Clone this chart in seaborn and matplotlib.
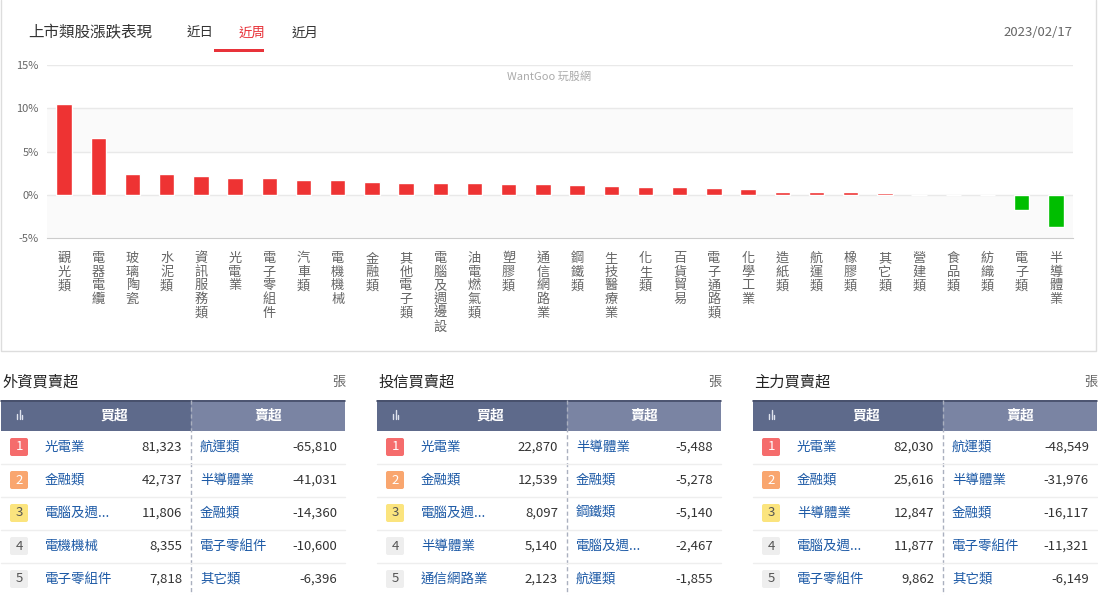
import numpy as np
import matplotlib
matplotlib.use("Agg")
import matplotlib.pyplot as plt
from matplotlib.patches import Rectangle, FancyBboxPatch
import seaborn as sns

# 類股週漲跌幅 (%)
categories = ["觀光類", "電器電纜", "玻璃陶瓷", "水泥類", "資訊服務類", "光電業", "電子零組件",
              "汽車類", "電機機械", "金融類", "其他電子類", "電腦及週邊設", "油電燃氣類", "塑膠類",
              "通信網路業", "鋼鐵類", "生技醫療業", "化生類", "百貨貿易", "電子通路類", "化學工業",
              "造紙類", "航運類", "橡膠類", "其它類", "營建類", "食品類", "紡織類", "電子類", "半導體業"]
changes = [10.5, 6.58, 2.42, 2.42, 2.19, 1.96, 1.96, 1.73, 1.73, 1.5, 1.38, 1.38, 1.38, 1.27,
           1.27, 1.15, 1.04, 0.92, 0.92, 0.81, 0.69, 0.35, 0.35, 0.35, 0.15, 0.0, 0.0, 0.0,
           -1.77, -3.73]

y_ticks = [-5, 0, 5, 10, 15]
tabs = ["近日", "近周", "近月"]

# 買賣超表
table_titles = ["外資買賣超", "投信買賣超", "主力買賣超"]
buy_names = [["光電業", "金融類", "電腦及週...", "電機機械", "電子零組件"],
             ["光電業", "金融類", "電腦及週...", "半導體業", "通信網路業"],
             ["光電業", "金融類", "半導體業", "電腦及週...", "電子零組件"]]
buy_values = [[81323, 42737, 11806, 8355, 7818],
              [22870, 12539, 8097, 5140, 2123],
              [82030, 25616, 12847, 11877, 9862]]
sell_names = [["航運類", "半導體業", "金融類", "電子零組件", "其它類"],
              ["半導體業", "金融類", "鋼鐵類", "電腦及週...", "航運類"],
              ["航運類", "半導體業", "金融類", "電子零組件", "其它類"]]
sell_values = [[-65810, -41031, -14360, -10600, -6396],
               [-5488, -5278, -5140, -2467, -1855],
               [-48549, -31976, -16117, -11321, -6149]]

sns.set_style("white")
plt.rcParams['font.family'] = ['Noto Sans CJK TC', 'DejaVu Sans']

W, H = 1098, 595
fig = plt.figure(figsize=(W / 100, H / 100), dpi=100)

# 背景層，用像素座標
bg = fig.add_axes([0, 0, 1, 1])
bg.set_xlim(0, W)
bg.set_ylim(H, 0)
bg.axis("off")

# 上方面板外框
bg.plot([1, 1, 1096, 1096], [0, 351, 351, 0], color="#dddddd", lw=1)

bg.text(28, 33, "上市類股漲跌表現", fontsize=11.2, color="#333333", va="center")
for i, t in enumerate(tabs):
    x = 200 + i * 52.5
    bg.text(x, 33, t, fontsize=9.7, color="#e8333a" if t == "近周" else "#333333",
            ha="center", va="center")
bg.add_patch(Rectangle((214, 48.5), 50, 3, color="#e8333a", lw=0))
bg.text(1072, 33, "2023/02/17", fontsize=9.5, color="#666666", ha="right", va="center")
bg.text(549, 77, "WantGoo 玩股網", fontsize=8, color="#aaaaaa", ha="center", va="center")

# 長條圖
ax = fig.add_axes([47 / W, 1 - 238 / H, (1073 - 47) / W, (238 - 65) / H])
ax.set_facecolor("none")
direction = ["up" if v >= 0 else "down" for v in changes]
sns.barplot(x=categories, y=changes, hue=direction,
            palette={"up": "#ee3333", "down": "#00be00"},
            width=0.45, saturation=1, legend=False, ax=ax, zorder=3)
ax.set_xlim(-0.5, len(categories) - 0.5)
ax.set_ylim(-5, 15)
ax.axhspan(5, 10, color="#fafafa", zorder=0, lw=0)
ax.axhspan(-5, 0, color="#fafafa", zorder=0, lw=0)
for v in y_ticks[1:]:
    ax.axhline(v, color="#e9e9e9", lw=1, zorder=1)
ax.set_yticks(y_ticks)
ax.set_yticklabels([f"{v}%" for v in y_ticks], fontsize=8, color="#666666")
ax.tick_params(axis="y", length=0, pad=6)
for s in ["top", "right", "left"]:
    ax.spines[s].set_visible(False)
ax.spines["bottom"].set_color("#cccccc")
ax.set_xticks(range(len(categories)))
ax.set_xticklabels(["\n".join(c) for c in categories], fontsize=9.5, color="#666666",
                   linespacing=1.07, va="top")
ax.tick_params(axis="x", length=0, pad=10)
ax.set_xticks(np.arange(-0.5, len(categories), 1), minor=True)
ax.tick_params(axis="x", which="minor", length=5, color="#cccccc")
ax.set_xlabel("")
ax.set_ylabel("")

# 三個買賣超表
rank_colors = ["#f56c6c", "#f9a66f", "#fbe47e", "#eeeeee", "#eeeeee"]
rank_text = ["white", "white", "#555555", "#555555", "#555555"]
for k in range(3):
    x0 = [1, 377, 753][k]
    tw = 344
    bg.text(x0 + 1, 382, table_titles[k], fontsize=11, color="#222222", va="center")
    bg.text(x0 + tw, 382, "張", fontsize=9.5, color="#666666", ha="right", va="center")
    # 表頭
    bg.add_patch(Rectangle((x0, 400), 190, 31, color="#5e6a8b", lw=0))
    bg.add_patch(Rectangle((x0 + 190, 400), tw - 190, 31, color="#7a84a3", lw=0))
    bg.plot([x0, x0 + tw], [400.5, 400.5], color="#444c68", lw=1.2)
    for dx, hh in [(16, 5), (18.5, 9), (21, 4)]:
        bg.plot([x0 + dx, x0 + dx], [419, 419 - hh], color="#dfe3ee", lw=1)
    bg.text(x0 + 113, 416, "買超", fontsize=10, color="white", ha="center", va="center",
            fontweight="bold")
    bg.text(x0 + 267, 416, "賣超", fontsize=10, color="white", ha="center", va="center",
            fontweight="bold")
    bg.plot([x0 + 190, x0 + 190], [400, 595], color="#aab0bf", lw=1, ls=(0, (3, 2)))
    for r in range(5):
        yc = 447 + r * 33
        if r < 4:
            bg.plot([x0, x0 + tw], [yc + 16.5, yc + 16.5], color="#eeeeee", lw=1)
        bg.add_patch(FancyBboxPatch((x0 + 9, yc - 9), 18, 18,
                                    boxstyle="round,pad=0,rounding_size=2",
                                    color=rank_colors[r], lw=0))
        bg.text(x0 + 18, yc, str(r + 1), fontsize=9.5, color=rank_text[r],
                ha="center", va="center")
        bg.text(x0 + 44, yc, buy_names[k][r], fontsize=9.7, color="#1d5aa6", va="center")
        bg.text(x0 + 181, yc, f"{buy_values[k][r]:,}", fontsize=9.5, color="#333333",
                ha="right", va="center")
        bg.text(x0 + 199, yc, sell_names[k][r], fontsize=9.7, color="#1d5aa6", va="center")
        bg.text(x0 + 336, yc, f"{sell_values[k][r]:,}", fontsize=9.5, color="#333333",
                ha="right", va="center")

fig.savefig("out.png", dpi=100)
